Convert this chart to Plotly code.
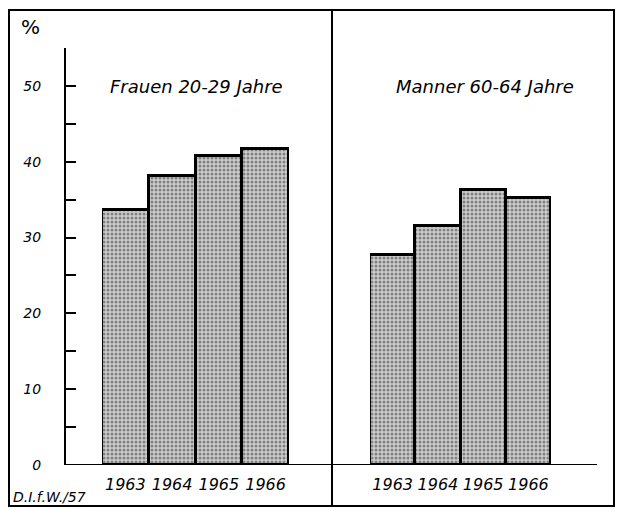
import plotly.graph_objects as go

years = ["1963", "1964", "1965", "1966"]
frauen_20_29 = [33.6, 38.1, 40.8, 41.7]
maenner_60_64 = [27.7, 31.5, 36.3, 35.2]
panel_titles = ["Frauen 20-29 Jahre", "Manner 60-64 Jahre"]
y_ticks = [0, 10, 20, 30, 40, 50]
source_note = "D.I.f.W./57"

FONT = "DejaVu Sans"
bar_marker = dict(
    color="#b8b8b8",
    line=dict(color="black", width=3),
    pattern=dict(shape=".", fgcolor="#333333", bgcolor="#cdcdcd", size=4, solidity=0.45),
)

fig = go.Figure()
fig.add_trace(go.Bar(x=years, y=frauen_20_29, marker=bar_marker, xaxis="x", yaxis="y", showlegend=False))
fig.add_trace(go.Bar(x=years, y=maenner_60_64, marker=bar_marker, xaxis="x2", yaxis="y", showlegend=False))

W, H = 620, 509
L, R, T, B = 65, 597, 48, 465
pw, ph = R - L, B - T

def px(x):
    return (x - L) / pw

def py(y):
    return (B - y) / ph

xcommon = dict(type="category", showgrid=False, zeroline=False, showline=False, ticks="",
               tickfont=dict(family=FONT, size=16, style="italic", color="black"),
               ticklabelstandoff=8,
               range=[-0.5, 3.5], fixedrange=True, automargin=False, anchor="y")

fig.update_layout(
    width=W, height=H,
    margin=dict(l=L, r=W - R, t=T, b=H - B, autoexpand=False),
    paper_bgcolor="white", plot_bgcolor="white",
    bargap=0,
    xaxis=dict(domain=[px(102), px(289)], **xcommon),
    xaxis2=dict(domain=[px(370), px(551)], **xcommon),
    yaxis=dict(range=[0, 55], tickvals=y_ticks, ticks="inside", ticklen=10, tickwidth=2,
               anchor="free", position=0,
               tickcolor="black", showline=True, linecolor="black", linewidth=2,
               showgrid=False, zeroline=False, ticklabelstandoff=20, automargin=False,
               tickfont=dict(family=FONT, size=14, style="italic", color="black"),
               minor=dict(dtick=5, ticks="inside", ticklen=10, tickwidth=2, tickcolor="black")),
    font=dict(family=FONT, color="black"),
)

shapes = [
    # outer frame
    dict(type="rect", xref="paper", yref="paper", x0=px(9), x1=px(614), y0=py(506), y1=py(10),
         line=dict(color="black", width=2)),
    # divider
    dict(type="line", xref="paper", yref="paper", x0=px(332), x1=px(332), y0=py(506), y1=py(10),
         line=dict(color="black", width=2)),
    # baseline
    dict(type="line", xref="paper", yref="y", x0=0, x1=1, y0=0, y1=0,
         line=dict(color="black", width=2)),
]
fig.update_layout(shapes=shapes)

ann = [
    dict(text=panel_titles[0], x=px(196), y=py(86), xref="paper", yref="paper", showarrow=False,
         xanchor="center", yanchor="middle", font=dict(family=FONT, size=18, style="italic")),
    dict(text=panel_titles[1], x=px(485), y=py(86), xref="paper", yref="paper", showarrow=False,
         xanchor="center", yanchor="middle", font=dict(family=FONT, size=18, style="italic")),
    dict(text="%", x=px(30), y=py(27), xref="paper", yref="paper", showarrow=False,
         xanchor="center", yanchor="middle", font=dict(family=FONT, size=20)),
    dict(text=source_note, x=px(11), y=py(497), xref="paper", yref="paper", showarrow=False,
         xanchor="left", yanchor="middle", font=dict(family=FONT, size=14, style="italic")),
]
fig.update_layout(annotations=ann)

fig.write_html("out.html", config={"displayModeBar": False},
               post_script="document.body.style.margin='0';")
